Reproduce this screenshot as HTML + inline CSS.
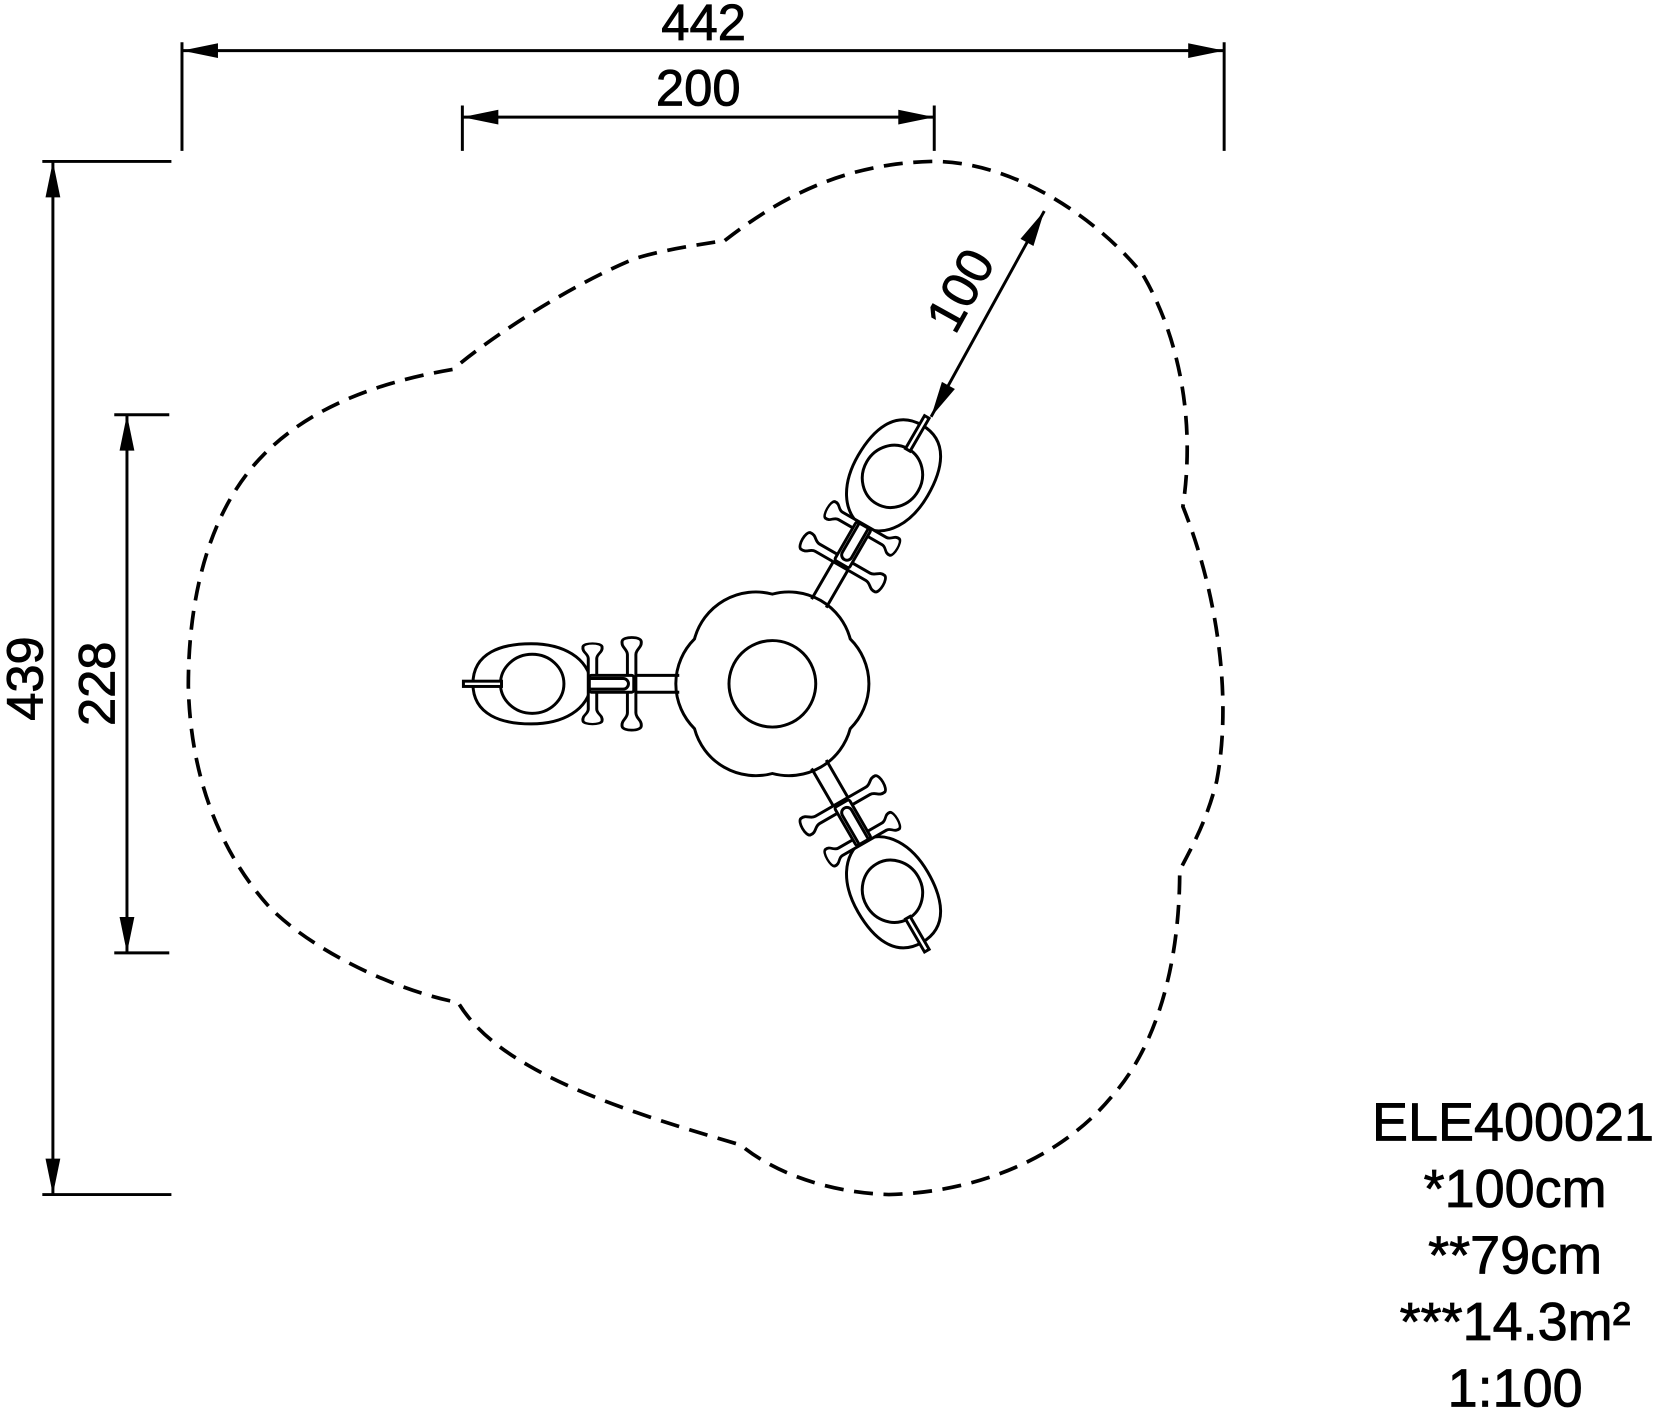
<!DOCTYPE html>
<html><head><meta charset="utf-8"><style>
html,body{margin:0;padding:0;background:#fff;width:1659px;height:1413px;overflow:hidden}
svg{display:block}
text{font-family:"Liberation Sans",Arial,sans-serif;fill:#000}
</style></head><body>
<svg width="1659" height="1413" viewBox="0 0 1568 1339" preserveAspectRatio="none" xmlns="http://www.w3.org/2000/svg">
<defs>
<g id="arrow"><path d="M0,0 L-34,-7 L-34,7 Z" fill="#000"/></g>
<path id="bone" fill="#fff" stroke="#000" stroke-width="2.8" d="M-4,-30 C-4,-36 -10,-37 -9,-44 C-8,-49 8,-49 9,-44 C10,-37 4,-36 4,-30 L4,30 C4,36 10,37 9,44 C8,49 -8,49 -9,44 C-10,37 -4,36 -4,30 Z"/>
<g id="arm" fill="none" stroke="#000" stroke-width="2.8">
<path d="M-88,-8 L-135,-8 M-88,8 L-135,8"/>
<use href="#bone" transform="translate(-133,0) scale(1,0.92)"/>
<path d="M-283,0 C-283,-30 -255,-38 -228,-38 C-198,-38 -174,-25 -171,0 C-174,25 -198,38 -228,38 C-255,38 -283,30 -283,0 Z" fill="#fff"/>
<ellipse cx="-227" cy="0" rx="30" ry="28"/>
<use href="#bone" transform="translate(-170,0) scale(1,0.8)"/>
<rect x="-173" y="-8" width="42" height="16" rx="2" fill="#fff"/>
<path d="M-173,-5 L-141,-5 A5,5 0 0 1 -141,5 L-173,5"/>
<rect x="-292" y="-2.5" width="36" height="5" fill="#fff"/>
</g>
</defs>

<path fill="none" stroke="#000" stroke-width="3.5" stroke-dasharray="18,10"
d="M685,228 C740,185 800,155 880,153 C960,152 1040,210 1080,260 C1115,320 1130,400 1118,480
C1150,560 1165,660 1150,740 C1140,780 1125,805 1115,825
C1115,910 1095,990 1050,1040 C1000,1100 920,1130 840,1132 C780,1130 730,1110 700,1085
C650,1070 560,1045 500,1010 C465,990 445,970 433,950
C380,940 300,905 255,860 C210,810 180,740 178,650 C178,560 200,480 250,430 C300,380 370,360 428,350
C470,315 540,270 600,245 C630,236 660,232 685,228 Z"/>

<g transform="translate(730,648)" stroke="#000" stroke-width="2.8" fill="none">
<path d="M73.6,-42.5 A60,60 0 0 1 73.6,42.5 A60,60 0 0 1 0,85 A60,60 0 0 1 -73.6,42.5 A60,60 0 0 1 -73.6,-42.5 A60,60 0 0 1 0,-85 A60,60 0 0 1 73.6,-42.5 Z" fill="#fff"/>
<circle r="41"/>
<use href="#arm"/>
<use href="#arm" transform="rotate(120)"/>
<use href="#arm" transform="rotate(240)"/>
</g>

<g stroke="#000" stroke-width="2.8" fill="none">
<path d="M172,40 V143 M1157,40 V143 M172,48 H1157"/>
<path d="M437,100 V143 M883,100 V143 M437,111 H883"/>
<path d="M40,153 H162 M40,1132 H162 M50,153 V1132"/>
<path d="M108,393 H160 M108,903 H160 M120,393 V903"/>
<path d="M987,200 L880,395"/>
</g>
<use href="#arrow" transform="translate(172,48) rotate(180)"/>
<use href="#arrow" transform="translate(1157,48)"/>
<use href="#arrow" transform="translate(437,111) rotate(180)"/>
<use href="#arrow" transform="translate(883,111)"/>
<use href="#arrow" transform="translate(50,153) rotate(-90)"/>
<use href="#arrow" transform="translate(50,1132) rotate(90)"/>
<use href="#arrow" transform="translate(120,393) rotate(-90)"/>
<use href="#arrow" transform="translate(120,903) rotate(90)"/>
<use href="#arrow" transform="translate(987,200) rotate(-61.2)"/>
<use href="#arrow" transform="translate(880,395) rotate(118.8)"/>

<g font-size="48" stroke="#000" stroke-width="0.8">
<text x="665" y="38" text-anchor="middle">442</text>
<text x="660" y="100" text-anchor="middle">200</text>
<text transform="translate(40,643) rotate(-90)" text-anchor="middle">439</text>
<text transform="translate(108,648) rotate(-90)" text-anchor="middle">228</text>
<text transform="translate(922,283) rotate(-61)" text-anchor="middle">100</text>
</g>

<g font-size="51" text-anchor="middle" stroke="#000" stroke-width="0.8">
<text x="1430" y="1081">ELE400021</text>
<text x="1432" y="1144">*100cm</text>
<text x="1432" y="1207">**79cm</text>
<text x="1432" y="1270">***14.3m²</text>
<text x="1432" y="1333">1:100</text>
</g>
</svg>
</body></html>
